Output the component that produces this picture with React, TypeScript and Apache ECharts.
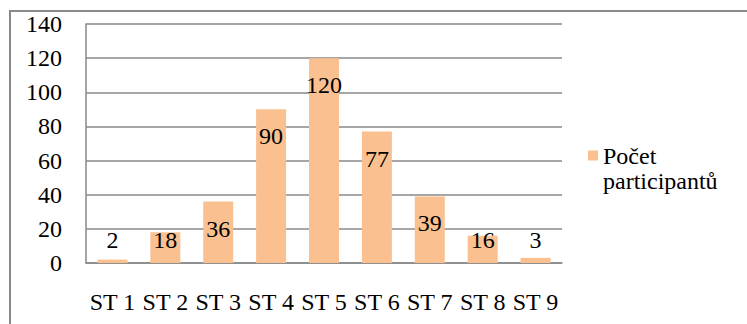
import React, { useEffect, useRef } from "react";
import * as echarts from "echarts";

// Number of participants per stage
const categories = ["ST 1", "ST 2", "ST 3", "ST 4", "ST 5", "ST 6", "ST 7", "ST 8", "ST 9"];
const participants = [2, 18, 36, 90, 120, 77, 39, 16, 3];
const seriesName = "Počet participantů";
// Leading blank line keeps the legend swatch level with the first text line
const legendText = "\nPočet\nparticipantů";
const yTicks = { min: 0, max: 140, interval: 20 };

const FONT = "Liberation Serif";
const FONT_SIZE = 24;
const GRID_GRAY = "#898989";
const BAR_COLOR = "#FAC090";

export default function App() {
  const ref = useRef<HTMLDivElement>(null);

  useEffect(() => {
    if (!ref.current) return;
    const chart = echarts.init(ref.current, undefined, { renderer: "svg" });

    // Short bars carry their label above the bar base, taller ones inside the top
    const barData = participants.map((v) => ({
      value: v,
      label:
        v >= 30
          ? { position: "insideTop" as const, distance: 15 }
          : { position: "insideBottom" as const, distance: 11 },
    }));

    chart.setOption({
      animation: false,
      textStyle: { fontFamily: FONT },
      grid: { left: 86, top: 24, right: 185, bottom: 61, containLabel: false },
      legend: {
        show: true,
        orient: "vertical",
        left: 588,
        top: 118,
        padding: 0,
        icon: "rect",
        itemWidth: 10,
        itemHeight: 10,
        itemGap: 0,
        data: [seriesName],
        formatter: () => legendText,
        textStyle: {
          fontFamily: FONT,
          fontSize: FONT_SIZE,
          color: "#000",
          lineHeight: 25,
        },
      },
      xAxis: {
        type: "category",
        data: categories,
        axisLine: { show: true, lineStyle: { color: GRID_GRAY, width: 1.5 } },
        axisTick: { show: false },
        axisLabel: { fontFamily: FONT, fontSize: FONT_SIZE, color: "#000", margin: 27, interval: 0 },
      },
      yAxis: {
        type: "value",
        min: yTicks.min,
        max: yTicks.max,
        interval: yTicks.interval,
        axisLine: { show: true, lineStyle: { color: GRID_GRAY, width: 1.5 } },
        axisTick: { show: false },
        axisLabel: { fontFamily: FONT, fontSize: FONT_SIZE, color: "#000", margin: 24 },
        splitLine: { show: true, lineStyle: { color: GRID_GRAY, width: 1.5 } },
      },
      series: [
        {
          name: seriesName,
          type: "bar",
          barWidth: 30,
          data: barData,
          itemStyle: { color: BAR_COLOR },
          label: {
            show: true,
            fontFamily: FONT,
            fontSize: FONT_SIZE,
            color: "#000",
          },
        },
      ],
      graphic: [
        {
          type: "rect",
          shape: { x: 10, y: 11, width: 800, height: 400 },
          style: { fill: "none", stroke: GRID_GRAY, lineWidth: 2 },
          silent: true,
        },
      ],
    });

    return () => chart.dispose();
  }, []);

  return (
    <div
      ref={ref}
      style={{ position: "fixed", left: 0, top: 0, width: 747, height: 324, background: "#fff" }}
    />
  );
}
